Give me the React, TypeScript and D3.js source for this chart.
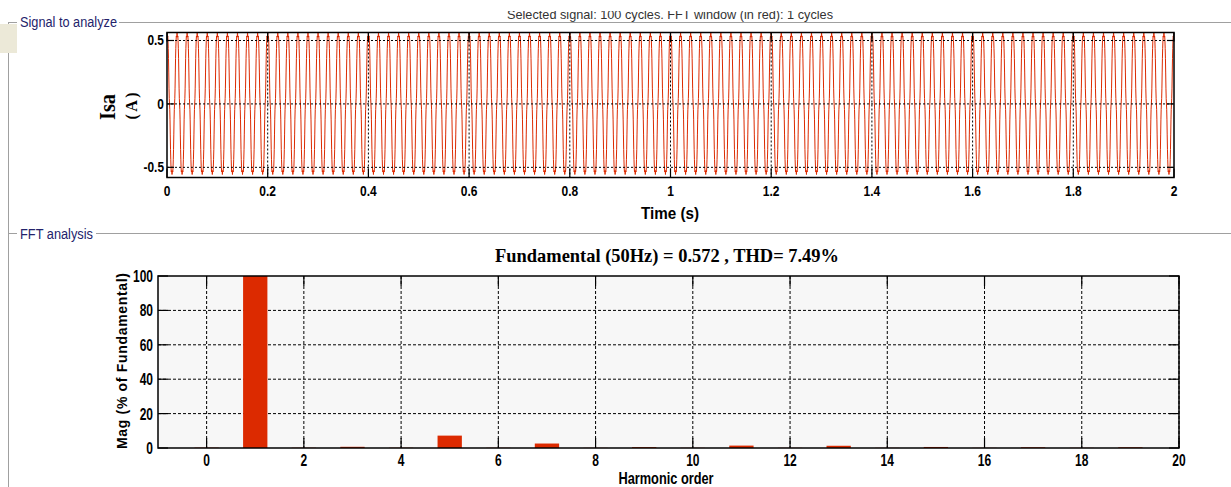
import React from "react";
import * as d3 from "d3";

// ---------- data ----------
const HARMONIC_ORDERS = [0, 1, 2, 3, 4, 5, 6, 7, 8, 9, 10, 11, 12, 13, 14, 15, 16, 17, 18, 19];
const HARMONIC_MAG = [0.2, 100, 0.15, 0.7, 0.15, 7.2, 0.12, 2.6, 0.1, 0.5, 0.1, 1.4, 0.1, 1.3, 0.1, 0.6, 0.1, 0.4, 0.1, 0.4];
const HARMONIC_PHASE_DEG = [0, 0, 0, 180, 0, 180, 0, 0, 0, 180, 0, 0, 0, 0, 0, 0, 0, 0, 0, 0];
const FUNDAMENTAL_AMP = 0.572;
const FUNDAMENTAL_HZ = 50;
const SIGNAL_DURATION = 2;
const SAMPLES_PER_CYCLE = 40;

const TIME_TICKS = [0, 0.2, 0.4, 0.6, 0.8, 1, 1.2, 1.4, 1.6, 1.8, 2];
const ISA_TICKS = [-0.5, 0, 0.5];
const ISA_DOMAIN = [-0.58, 0.563];
const HARM_TICKS = [0, 2, 4, 6, 8, 10, 12, 14, 16, 18, 20];
const MAG_TICKS = [0, 20, 40, 60, 80, 100];

const TOP_TITLE = "Selected signal: 100 cycles. FFT window (in red): 1 cycles";
const FFT_TITLE = "Fundamental (50Hz) = 0.572 , THD= 7.49%";

// ---------- layout ----------
const W = 1231;
const H = 487;
const TOP = { x0: 167, x1: 1174, y0: 32.5, y1: 177.5 };
const BOT = { x0: 158, x1: 1179, y0: 276, y1: 448 };
const SANS = "'Liberation Sans', Arial, sans-serif";
const SERIF = "'Liberation Serif', 'Times New Roman', serif";
const RED = "#DC2A00";
const NAVY = "#23236B";
const FRAME = "#A0A0A0";

function T(props: any) {
  const { x, y, sx = 1, anchor = "middle", size = 12, weight = "bold", family = SANS, fill = "#000", rotate = 0, children, textLength, adjust = "spacingAndGlyphs" } = props;
  return (
    <text
      transform={`translate(${x},${y}) rotate(${rotate}) scale(${sx},1)`}
      textAnchor={anchor}
      fontSize={size}
      fontWeight={weight}
      fontFamily={family}
      fill={fill}
      textLength={textLength}
      lengthAdjust={textLength ? adjust : undefined}
    >
      {children}
    </text>
  );
}

export default function App() {
  // signal built from the spectrum values
  const nSamples = Math.round(SIGNAL_DURATION * FUNDAMENTAL_HZ * SAMPLES_PER_CYCLE);
  const signal: [number, number][] = d3.range(nSamples + 1).map((i) => {
    const t = (i / nSamples) * SIGNAL_DURATION;
    let v = 0;
    HARMONIC_ORDERS.forEach((h, k) => {
      if (h === 0) return;
      const a = (FUNDAMENTAL_AMP * HARMONIC_MAG[k]) / 100;
      v += a * Math.cos(2 * Math.PI * FUNDAMENTAL_HZ * h * t + (HARMONIC_PHASE_DEG[k] * Math.PI) / 180);
    });
    return [t, v];
  });

  const xT = d3.scaleLinear().domain([0, SIGNAL_DURATION]).range([TOP.x0, TOP.x1]);
  const yT = d3.scaleLinear().domain(ISA_DOMAIN).range([TOP.y1, TOP.y0]);
  const line = d3.line<[number, number]>().x((d) => xT(d[0])).y((d) => yT(d[1]));

  const xB = d3.scaleLinear().domain([-1, 20]).range([BOT.x0, BOT.x1]);
  const yB = d3.scaleLinear().domain([0, 100]).range([BOT.y1, BOT.y0]);
  const barW = xB(0.5) - xB(0);

  const fmt = (v: number) => String(+v.toFixed(1));

  return (
    <svg
      width={W}
      height={H}
      style={{ position: "absolute", left: 0, top: 0, background: "#fff" }}
    >
      <defs>
        <clipPath id="topclip">
          <rect x={TOP.x0} y={TOP.y0} width={TOP.x1 - TOP.x0} height={TOP.y1 - TOP.y0} />
        </clipPath>
      </defs>
      <rect x={0} y={0} width={W} height={H} fill="#fff" />

      {/* top title, partly hidden */}
      <T x={670} y={18.5} size={13.5} weight="normal" fill="#333" textLength={326}>
        {TOP_TITLE}
      </T>
      <rect x={0} y={0} width={W} height={11} fill="#fff" />

      {/* group frames */}
      <line x1={8} y1={22.5} x2={17} y2={22.5} stroke={FRAME} />
      <line x1={119} y1={22.5} x2={W} y2={22.5} stroke={FRAME} />
      <line x1={8.5} y1={22} x2={8.5} y2={H} stroke={FRAME} />
      <line x1={8} y1={233.5} x2={17} y2={233.5} stroke={FRAME} />
      <line x1={96} y1={233.5} x2={W} y2={233.5} stroke={FRAME} />
      <rect x={0} y={24} width={17} height={29} fill="#ECE9D8" />
      <T x={20} y={26.5} anchor="start" size={14} weight="normal" fill={NAVY} textLength={97}>
        Signal to analyze
      </T>
      <T x={20} y={238.5} anchor="start" size={14} weight="normal" fill={NAVY} textLength={73}>
        FFT analysis
      </T>

      {/* ---------- top plot ---------- */}
      <rect x={TOP.x0} y={TOP.y0} width={TOP.x1 - TOP.x0} height={TOP.y1 - TOP.y0} fill="#fff" />
      <path d={line(signal) || ""} fill="none" stroke={RED} strokeWidth={1} clipPath="url(#topclip)" />
      {TIME_TICKS.slice(1, -1).map((t) => (
        <line key={"gv" + t} x1={xT(t)} x2={xT(t)} y1={TOP.y0} y2={TOP.y1} stroke="#000" strokeDasharray="2,2" />
      ))}
      {ISA_TICKS.map((v) => (
        <line key={"gh" + v} x1={TOP.x0} x2={TOP.x1} y1={yT(v)} y2={yT(v)} stroke="#000" strokeDasharray="2,2" />
      ))}
      {TIME_TICKS.map((t) => (
        <g key={"tt" + t}>
          <line x1={xT(t)} x2={xT(t)} y1={TOP.y1} y2={TOP.y1 - 9} stroke="#000" strokeWidth={1.2} />
          <line x1={xT(t)} x2={xT(t)} y1={TOP.y0} y2={TOP.y0 + 9} stroke="#000" strokeWidth={1.2} />
          <T x={xT(t)} y={196} size={15} sx={0.8}>{fmt(t)}</T>
        </g>
      ))}
      {ISA_TICKS.map((v) => (
        <g key={"ty" + v}>
          <line x1={TOP.x0} x2={TOP.x0 + 7} y1={yT(v)} y2={yT(v)} stroke="#000" strokeWidth={1.2} />
          <line x1={TOP.x1} x2={TOP.x1 - 7} y1={yT(v)} y2={yT(v)} stroke="#000" strokeWidth={1.2} />
          <T x={164} y={yT(v) + 5} anchor="end" size={14} sx={0.85}>{fmt(v)}</T>
        </g>
      ))}
      <rect x={TOP.x0} y={TOP.y0} width={TOP.x1 - TOP.x0} height={TOP.y1 - TOP.y0} fill="none" stroke="#000" strokeWidth={1.5} />
      <T x={670} y={219} size={16} textLength={58}>Time (s)</T>
      <T x={115} y={107} size={23} family={SERIF} rotate={-90} textLength={26}>Isa</T>
      <T x={137} y={106} size={16} family={SERIF} rotate={-90} textLength={27} adjust="spacing">(A)</T>

      {/* ---------- bottom plot ---------- */}
      <T x={667} y={262} size={19} family={SERIF} textLength={344}>{FFT_TITLE}</T>
      <rect x={BOT.x0} y={BOT.y0} width={BOT.x1 - BOT.x0} height={BOT.y1 - BOT.y0} fill="#F7F7F7" />
      {HARM_TICKS.map((h) => (
        <line key={"bgv" + h} x1={xB(h)} x2={xB(h)} y1={BOT.y0} y2={BOT.y1} stroke="#000" strokeDasharray="3,2" />
      ))}
      {MAG_TICKS.slice(1, -1).map((m) => (
        <line key={"bgh" + m} x1={BOT.x0} x2={BOT.x1} y1={yB(m)} y2={yB(m)} stroke="#000" strokeDasharray="3,2" />
      ))}
      {HARMONIC_ORDERS.map((h, k) => (
        <rect
          key={"bar" + h}
          x={xB(h) - barW / 2}
          y={yB(HARMONIC_MAG[k])}
          width={barW}
          height={BOT.y1 - yB(HARMONIC_MAG[k])}
          fill={RED}
        />
      ))}
      {HARM_TICKS.map((h) => (
        <g key={"bt" + h}>
          <line x1={xB(h)} x2={xB(h)} y1={BOT.y1} y2={BOT.y1 - 10} stroke="#000" strokeWidth={1.2} />
          <line x1={xB(h)} x2={xB(h)} y1={BOT.y0} y2={BOT.y0 + 10} stroke="#000" strokeWidth={1.2} />
          <T x={xB(h)} y={466} size={16} sx={0.75}>{String(h)}</T>
        </g>
      ))}
      {MAG_TICKS.map((m) => (
        <g key={"by" + m}>
          <line x1={BOT.x0} x2={BOT.x0 + 10} y1={yB(m)} y2={yB(m)} stroke="#000" strokeWidth={1.2} />
          <line x1={BOT.x1} x2={BOT.x1 - 10} y1={yB(m)} y2={yB(m)} stroke="#000" strokeWidth={1.2} />
          <T x={153} y={yB(m) + 6} anchor="end" size={16} sx={0.75}>{String(m)}</T>
        </g>
      ))}
      <rect x={BOT.x0} y={BOT.y0} width={BOT.x1 - BOT.x0} height={BOT.y1 - BOT.y0} fill="none" stroke="#000" strokeWidth={1.5} />
      <T x={666} y={484} size={16} textLength={95}>Harmonic order</T>
      <T x={127} y={361} size={14} rotate={-90} textLength={176} adjust="spacing">Mag (% of Fundamental)</T>
    </svg>
  );
}
